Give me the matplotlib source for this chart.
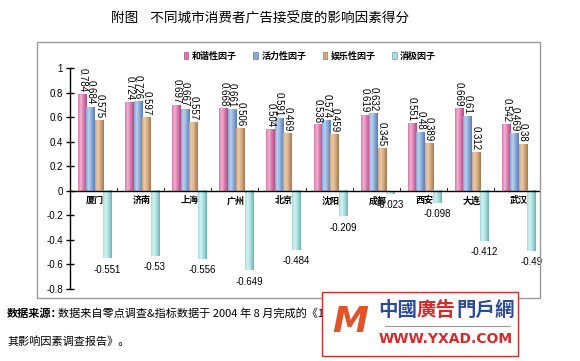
import numpy as np
import matplotlib
matplotlib.use("Agg")
import matplotlib.pyplot as plt
from matplotlib.patches import Rectangle, Patch
from matplotlib.lines import Line2D
from matplotlib.colors import LinearSegmentedColormap

plt.rcParams['font.family'] = ['Noto Sans CJK SC', 'DejaVu Sans']

cities = ["厦门", "济南", "上海", "广州", "北京", "沈阳", "成都", "西安", "大连", "武汉"]
series_names = ["和谐性因子", "活力性因子", "娱乐性因子", "消极因子"]
harmony = [0.784, 0.724, 0.697, 0.668, 0.504, 0.538, 0.619, 0.551, 0.669, 0.542]
vitality = [0.684, 0.726, 0.667, 0.661, 0.591, 0.574, 0.632, 0.48, 0.61, 0.469]
entertain = [0.575, 0.597, 0.557, 0.506, 0.469, 0.459, 0.345, 0.389, 0.312, 0.38]
negative = [-0.551, -0.53, -0.556, -0.649, -0.484, -0.209, -0.023, -0.098, -0.412, -0.49]
yticks = [1, 0.8, 0.6, 0.4, 0.2, 0, -0.2, -0.4, -0.6, -0.8]

colors = ["#d977aa", "#86a8d6", "#d2a67c", "#a6dcdc"]
lights = ["#f0b4d2", "#bcd2ee", "#ecccaa", "#d6f2f2"]
darks = ["#b04f84", "#5a80b6", "#a47a52", "#6cb2b2"]

W, H = 580, 361
fig = plt.figure(figsize=(W / 100, H / 100), dpi=100)

# outer frame of the chart
fig.patches.append(Rectangle((37 / W, 1 - 298 / H), (540 - 37) / W, (298 - 42) / H,
                             transform=fig.transFigure, fill=False,
                             edgecolor="#9a9a9a", linewidth=1.0))

ax = fig.add_axes([70 / W, 1 - 289 / H, (541 - 70) / W, (289 - 68) / H])

x = np.arange(len(cities))
w = 0.18
shift = 0.03
grad = np.linspace(0, 1, 32).reshape(1, -1)
all_series = [harmony, vitality, entertain, negative]
for k, vals in enumerate(all_series):
    cmap = LinearSegmentedColormap.from_list(
        f"c{k}", [(0, colors[k]), (0.3, lights[k]), (0.65, colors[k]), (1, darks[k])])
    pos = x + shift + (k - 1.5) * w
    bars = ax.bar(pos, vals, width=w, color="none", edgecolor="none", zorder=2)
    for b, px, v in zip(bars, pos, vals):
        ax.imshow(grad, extent=[px - w / 2, px + w / 2, 0, v], cmap=cmap,
                  aspect="auto", interpolation="bilinear", zorder=2)
        if v >= 0:
            ax.annotate(f"{v:g}", (px, v), xytext=(0, 1.5), textcoords="offset points",
                        rotation=270, ha="center", va="bottom", fontsize=7,
                        family="Liberation Sans")
        else:
            ax.annotate(f"{v:g}", (px, v), xytext=(0, -8), textcoords="offset points",
                        ha="center", va="center", fontsize=7,
                        family="Liberation Sans")

ax.set_xlim(-0.5, len(cities) - 0.5)
ax.set_ylim(-0.8, 1)
for s in ["top", "right", "bottom"]:
    ax.spines[s].set_visible(False)
ax.spines["left"].set_linewidth(1.0)
ax.axhline(0, color="black", linewidth=1.0, zorder=3)

ax.set_yticks(yticks)
ax.set_yticklabels([f"{t:g}" for t in yticks], fontsize=7, family="Liberation Sans")
ax.tick_params(axis="y", direction="inout", length=6, width=1.0, pad=2)

ax.set_xticks([])
for i, c in enumerate(cities):
    ax.text(x[i] + 0.03, -0.045, c, ha="center", va="top", fontsize=6.5,
            fontweight="bold", zorder=4)
# small ticks along zero line between cities
for b in np.append(x + 0.5, -0.5):
    ax.plot([b, b], [0, 0.02], color="black", linewidth=0.6, zorder=3)

handles = [Patch(facecolor=colors[k], edgecolor=darks[k], linewidth=0.5) for k in range(4)]
fig.legend(handles, series_names, loc="center", bbox_to_anchor=(310 / W, 1 - 56 / H),
           ncol=4, frameon=False, handlelength=0.5, handleheight=0.7,
           handletextpad=0.4, columnspacing=1.8, prop={"weight": "bold", "size": 6.5})

fig.text(260 / W, 1 - 18 / H, "附图    不同城市消费者广告接受度的影响因素得分",
         ha="center", va="center", fontsize=9.8)

fig.text(7 / W, 1 - 313 / H, "数据来源：", ha="left", va="center", fontsize=8,
         fontweight="bold")
fig.text(58 / W, 1 - 313 / H, "数据来自零点调查&指标数据于 2004 年 8 月完成的《10城市消费者广告接受度及",
         ha="left", va="center", fontsize=8)
fig.text(7 / W, 1 - 341 / H, "其影响因素调查报告》。", ha="left", va="center", fontsize=8)

# watermark logo box
fig.patches.append(Rectangle((322 / W, 1 - 356 / H), (518 - 322) / W, (356 - 292) / H,
                             transform=fig.transFigure, facecolor="white",
                             edgecolor="#d03030", linewidth=1.0, zorder=5))
fig.text(350 / W, 1 - 322 / H, "M", ha="center", va="center", fontsize=26,
         color="#e2532a", fontweight="bold", style="italic", zorder=6,
         family="DejaVu Sans")
logo_parts = [("中國", "#2c4a9a"), ("廣告", "#d42a2a"), ("門戶網", "#2c4a9a")]
xs = 378
for txt, col in logo_parts:
    fig.text(xs / W, 1 - 310 / H, txt, ha="left", va="center", fontsize=14,
             color=col, fontweight="bold", zorder=6)
    xs += 19.5 * len(txt)
fig.lines.append(Line2D([385 / W, 510 / W], [1 - 326 / H, 1 - 326 / H],
                        transform=fig.transFigure, color="#999999", linewidth=0.8, zorder=6))
fig.text(446 / W, 1 - 339 / H, "WWW.YXAD.COM", ha="center", va="center", fontsize=10,
         color="#d42a2a", fontweight="bold", zorder=6, family="DejaVu Sans")

fig.savefig("out.png", dpi=100)
